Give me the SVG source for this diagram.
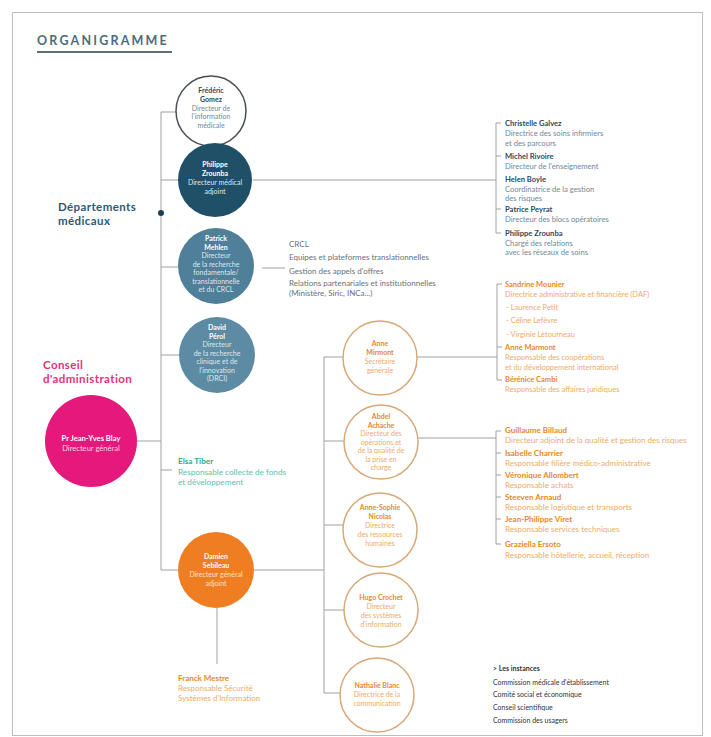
<svg xmlns="http://www.w3.org/2000/svg" width="711" height="737" viewBox="0 0 711 737">
<style>
.t{font-family:Lato,'Open Sans','Liberation Sans',sans-serif;font-size:7px}
.l76{font-size:7.6px}
.l8{font-size:8px}
.l75{font-size:7.5px}
.l82{font-size:8.2px}
.c{text-anchor:middle}
.b{font-weight:700}
.w{fill:#ffffff}
.wl{fill:#dbe8ef}
.sl{fill:#2b4a5c}
.sll{fill:#6f8898}
.or{fill:#e8872a}
.orl{fill:#f2aa66}
.gr{fill:#6b7074}
.dk{fill:#333333}
.hd{font-family:Lato,'Open Sans','Liberation Sans',sans-serif;font-size:11.5px;font-weight:700;letter-spacing:0.4px}
.ln{stroke:#a0a0a0;stroke-width:1;fill:none}
.oc{fill:#ffffff;stroke:#d8a878;stroke-width:1.5}
</style>
<rect x="0" y="0" width="711" height="737" fill="#ffffff"/>
<rect x="12.5" y="12.5" width="690" height="723" fill="none" stroke="#bdbdbd" stroke-width="1"/>

<g id="title">
<text x="37" y="45" font-family="Lato,'Open Sans',sans-serif" font-size="12.5" font-weight="700" letter-spacing="2.2" fill="#4d6b7c">ORGANIGRAMME</text>
<line x1="37" y1="52" x2="172" y2="52" stroke="#2d3d4b" stroke-width="1.5"/>
</g>

<g id="connectors">
<path class="ln" d="M161 112 V570 H178"/>
<path class="ln" d="M161 112 H176"/>
<path class="ln" d="M161 180 H178"/>
<path class="ln" d="M161 267 H178"/>
<path class="ln" d="M161 355 H179"/>
<path class="ln" d="M137 441 H161"/>
<path class="ln" d="M161 470 H172"/>
<path class="ln" d="M253 180 H496"/>
<path class="ln" d="M496 123 V233"/>
<path class="ln" d="M496 123 H501 M496 156 H501 M496 209 H501 M496 233 H501"/>
<path class="ln" d="M262 268 H285"/>
<path class="ln" d="M254 570 H324"/>
<path class="ln" d="M324 357 V693"/>
<path class="ln" d="M324 357 H343 M324 441 H344 M324 525 H343 M324 610 H344 M324 693 H340"/>
<path class="ln" d="M417 357 H497"/>
<path class="ln" d="M497 284 V380"/>
<path class="ln" d="M497 284 H502 M497 347 H502 M497 380 H502"/>
<path class="ln" d="M418 438 H496"/>
<path class="ln" d="M496 431 V544"/>
<path class="ln" d="M496 431 H501 M496 453 H501 M496 475 H501 M496 497 H501 M496 519 H501 M496 544 H501"/>
<path class="ln" d="M217 608 V664"/>
<circle cx="161" cy="213" r="3" fill="#1f3e52"/>
</g>

<g id="dep-medicaux">
<text class="hd" x="58" y="211" fill="#2e5a70">Départements</text>
<text class="hd" x="58" y="225" fill="#2e5a70">médicaux</text>
</g>

<g id="gomez">
<circle cx="211" cy="111" r="35" fill="#ffffff" stroke="#4a4f55" stroke-width="1.5"/>
<text class="t c b sl" x="211" y="93">Frédéric</text>
<text class="t c b sl" x="211" y="101.5">Gomez</text>
<text class="t c sll" x="211" y="110.5">Directeur de</text>
<text class="t c sll" x="211" y="119">l'information</text>
<text class="t c sll" x="211" y="127.5">médicale</text>
</g>

<g id="zrounba">
<circle cx="215" cy="180" r="37" fill="#1f5068"/>
<text class="t c b w" x="215" y="167">Philippe</text>
<text class="t c b w" x="215" y="175.5">Zrounba</text>
<text class="t c wl" x="215" y="185">Directeur médical</text>
<text class="t c wl" x="215" y="193.5">adjoint</text>
</g>

<g id="zrounba-list">
<text class="t l76 b sl" x="505" y="126">Christelle Galvez</text>
<text class="t l76 sll" x="505" y="136">Directrice des soins infirmiers</text>
<text class="t l76 sll" x="505" y="145.5">et des parcours</text>
<text class="t l76 b sl" x="505" y="159">Michel Rivoire</text>
<text class="t l76 sll" x="505" y="168.5">Directeur de l'enseignement</text>
<text class="t l76 b sl" x="505" y="182">Helen Boyle</text>
<text class="t l76 sll" x="505" y="191.5">Coordinatrice de la gestion</text>
<text class="t l76 sll" x="505" y="201">des risques</text>
<text class="t l76 b sl" x="505" y="212">Patrice Peyrat</text>
<text class="t l76 sll" x="505" y="221.5">Directeur des blocs opératoires</text>
<text class="t l76 b sl" x="505" y="236">Philippe Zrounba</text>
<text class="t l76 sll" x="505" y="245.5">Chargé des relations</text>
<text class="t l76 sll" x="505" y="255">avec les réseaux de soins</text>
</g>

<g id="mehlen">
<circle cx="216" cy="266" r="38" fill="#4f7f99"/>
<text class="t c b w" x="216" y="241">Patrick</text>
<text class="t c b w" x="216" y="249.5">Mehlen</text>
<text class="t c wl" x="216" y="258">Directeur</text>
<text class="t c wl" x="216" y="266.5">de la recherche</text>
<text class="t c wl" x="216" y="275">fondamentale/</text>
<text class="t c wl" x="216" y="283.5">translationnelle</text>
<text class="t c wl" x="216" y="292">et du CRCL</text>
</g>

<g id="mehlen-list">
<text class="t l8 gr" x="289" y="247">CRCL</text>
<text class="t l8 gr" x="289" y="260">Equipes et plateformes translationnelles</text>
<text class="t l8 gr" x="289" y="273.5">Gestion des appels d'offres</text>
<text class="t l8 gr" x="289" y="285.5">Relations partenariales et institutionnelles</text>
<text class="t l8 gr" x="289" y="295.5">(Ministère, Siric, INCa...)</text>
</g>

<g id="perol">
<circle cx="217" cy="355" r="38" fill="#5d8ba4"/>
<text class="t c b w" x="217" y="330">David</text>
<text class="t c b w" x="217" y="338.5">Pérol</text>
<text class="t c wl" x="217" y="347">Directeur</text>
<text class="t c wl" x="217" y="355.5">de la recherche</text>
<text class="t c wl" x="217" y="364">clinique et de</text>
<text class="t c wl" x="217" y="372.5">l'innovation</text>
<text class="t c wl" x="217" y="381">(DRCI)</text>
</g>

<g id="conseil">
<text class="hd" x="43" y="369" fill="#e0337a">Conseil</text>
<text class="hd" x="43" y="383" fill="#e0337a">d'administration</text>
</g>

<g id="blay">
<circle cx="91" cy="441" r="46" fill="#e5187b"/>
<text class="t l76 c b w" x="91" y="441">Pr Jean-Yves Blay</text>
<text class="t l76 c" x="91" y="451" fill="#ffd3e6">Directeur général</text>
</g>

<g id="tiber">
<text class="t l82 b" x="178" y="464" fill="#2ea88e">Elsa Tiber</text>
<text class="t l82" x="178" y="474.5" fill="#5cc2ab">Responsable collecte de fonds</text>
<text class="t l82" x="178" y="484.5" fill="#5cc2ab">et développement</text>
</g>

<g id="sebileau">
<circle cx="216" cy="570" r="38" fill="#ef7d22"/>
<text class="t c b w" x="216" y="559">Damien</text>
<text class="t c b w" x="216" y="568">Sebileau</text>
<text class="t c" x="216" y="577" fill="#ffe0c4">Directeur général</text>
<text class="t c" x="216" y="586" fill="#ffe0c4">adjoint</text>
</g>

<g id="mestre">
<text class="t l8 b or" x="178" y="681">Franck Mestre</text>
<text class="t l8 orl" x="178" y="691">Responsable Sécurité</text>
<text class="t l8 orl" x="178" y="701">Systèmes d'Information</text>
</g>

<g id="mirmont">
<circle class="oc" cx="380" cy="358" r="37"/>
<text class="t c b or" x="380" y="346">Anne</text>
<text class="t c b or" x="380" y="355">Mirmont</text>
<text class="t c orl" x="380" y="364">Secrétaire</text>
<text class="t c orl" x="380" y="373">générale</text>
</g>

<g id="mirmont-list">
<text class="t l75 b or" x="505" y="287">Sandrine Mounier</text>
<text class="t l75 orl" x="505" y="297">Directrice administrative et financière (DAF)</text>
<text class="t l75 orl" x="506" y="310">- Laurence Petit</text>
<text class="t l75 orl" x="506" y="323">- Céline Lefèvre</text>
<text class="t l75 orl" x="506" y="337">- Virginie Letourneau</text>
<text class="t l75 b or" x="505" y="350">Anne Marmont</text>
<text class="t l75 orl" x="505" y="360">Responsable des coopérations</text>
<text class="t l75 orl" x="505" y="370">et du développement international</text>
<text class="t l75 b or" x="505" y="382">Bérénice Cambi</text>
<text class="t l75 orl" x="505" y="392">Responsable des affaires juridiques</text>
</g>

<g id="achache">
<circle class="oc" cx="381" cy="442" r="37"/>
<text class="t c b or" x="381" y="419">Abdel</text>
<text class="t c b or" x="381" y="427.5">Achache</text>
<text class="t c orl" x="381" y="436">Directeur des</text>
<text class="t c orl" x="381" y="444.5">opérations et</text>
<text class="t c orl" x="381" y="453">de la qualité de</text>
<text class="t c orl" x="381" y="461.5">la prise en</text>
<text class="t c orl" x="381" y="470">charge</text>
</g>

<g id="achache-list">
<text class="t l8 b or" x="505" y="433">Guillaume Billaud</text>
<text class="t l8 orl" x="505" y="443">Directeur adjoint de la qualité et gestion des risques</text>
<text class="t l8 b or" x="505" y="456">Isabelle Charrier</text>
<text class="t l8 orl" x="505" y="466">Responsable filière médico-administrative</text>
<text class="t l8 b or" x="505" y="478">Véronique Allombert</text>
<text class="t l8 orl" x="505" y="488">Responsable achats</text>
<text class="t l8 b or" x="505" y="500">Steeven Arnaud</text>
<text class="t l8 orl" x="505" y="510">Responsable logistique et transports</text>
<text class="t l8 b or" x="505" y="522">Jean-Philippe Viret</text>
<text class="t l8 orl" x="505" y="532">Responsable services techniques</text>
<text class="t l8 b or" x="505" y="547">Graziella Ersoto</text>
<text class="t l8 orl" x="505" y="558">Responsable hôtellerie, accueil, réception</text>
</g>

<g id="nicolas">
<circle class="oc" cx="380" cy="530" r="37"/>
<text class="t c b or" x="380" y="510">Anne-Sophie</text>
<text class="t c b or" x="380" y="519">Nicolas</text>
<text class="t c orl" x="380" y="528">Directrice</text>
<text class="t c orl" x="380" y="537">des ressources</text>
<text class="t c orl" x="380" y="546">humaines</text>
</g>

<g id="crochet">
<circle class="oc" cx="381" cy="610" r="37"/>
<text class="t c b or" x="381" y="600">Hugo Crochet</text>
<text class="t c orl" x="381" y="609">Directeur</text>
<text class="t c orl" x="381" y="618">des systèmes</text>
<text class="t c orl" x="381" y="627">d'information</text>
</g>

<g id="blanc">
<circle class="oc" cx="377" cy="695" r="37"/>
<text class="t c b or" x="377" y="688">Nathalie Blanc</text>
<text class="t c orl" x="377" y="697">Directrice de la</text>
<text class="t c orl" x="377" y="706">communication</text>
</g>

<g id="instances">
<text class="t b dk" x="493" y="671">&gt; Les instances</text>
<text class="t dk" x="493" y="685">Commission médicale d'établissement</text>
<text class="t dk" x="493" y="697">Comité social et économique</text>
<text class="t dk" x="493" y="710">Conseil scientifique</text>
<text class="t dk" x="493" y="723">Commission des usagers</text>
</g>
</svg>
